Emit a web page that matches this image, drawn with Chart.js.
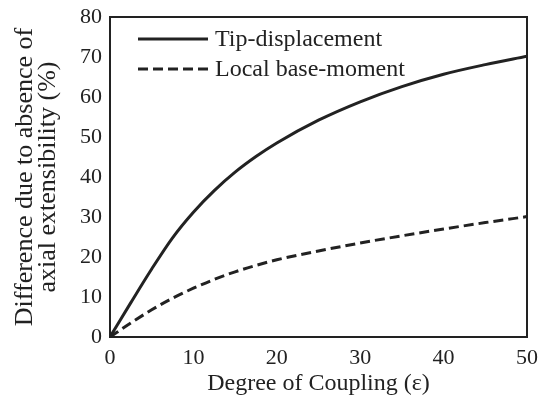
<!DOCTYPE html>
<html>
<head>
<meta charset="utf-8">
<script src="https://cdn.jsdelivr.net/npm/chart.js@4/dist/chart.umd.min.js"></script>
<style>
  html, body { margin: 0; padding: 0; background: #fff; }
  #wrap { width: 539px; height: 402px; }
</style>
</head>
<body>
<div id="wrap"><canvas id="coupling"></canvas></div>
<script>
// degree of coupling (epsilon) sample points
const couplingX = [0, 2.5, 5, 7.5, 10, 12.5, 15, 17.5, 20, 25, 30, 35, 40, 45, 50];
const tipDisplacement = [0, 8.6, 17.0, 24.8, 31.2, 36.6, 41.2, 45.1, 48.5, 54.2, 58.8, 62.6, 65.7, 68.1, 70.2];
const baseMoment = [0, 3.5, 6.8, 9.7, 12.2, 14.4, 16.3, 17.9, 19.3, 21.5, 23.5, 25.3, 27.0, 28.6, 30.1];
const xTicks = [0, 10, 20, 30, 40, 50];
const yTicks = [0, 10, 20, 30, 40, 50, 60, 70, 80];

const ink = '#222';
const serif = '"Liberation Serif", "Times New Roman", serif';

const pts = ys => couplingX.map((x, i) => ({ x: x, y: ys[i] }));

// frame round the plot and a hand drawn legend in the upper left
const framePlugin = {
  id: 'frame',
  afterDatasetsDraw(chart) {
    const { ctx, chartArea: a } = chart;
    ctx.save();
    ctx.strokeStyle = ink;
    ctx.lineWidth = 2;
    ctx.strokeRect(a.left, a.top, a.right - a.left, a.bottom - a.top);

    ctx.font = '24px ' + serif;
    ctx.textBaseline = 'middle';
    ctx.fillStyle = ink;
    chart.data.datasets.forEach((ds, i) => {
      const y = a.top + 22 + i * 30;
      ctx.beginPath();
      ctx.lineWidth = ds.borderWidth;
      ctx.setLineDash(ds.borderDash || []);
      ctx.moveTo(a.left + 28, y);
      ctx.lineTo(a.left + 98, y);
      ctx.stroke();
      ctx.setLineDash([]);
      ctx.fillText(ds.label, a.left + 105, y + 1);
    });
    ctx.restore();
  }
};

new Chart(document.getElementById('coupling'), {
  type: 'line',
  data: {
    datasets: [
      {
        label: 'Tip-displacement',
        data: pts(tipDisplacement),
        borderColor: ink,
        borderWidth: 3,
        pointRadius: 0,
        cubicInterpolationMode: 'monotone'
      },
      {
        label: 'Local base-moment',
        data: pts(baseMoment),
        borderColor: ink,
        borderWidth: 3,
        borderDash: [10, 5],
        pointRadius: 0,
        cubicInterpolationMode: 'monotone'
      }
    ]
  },
  options: {
    responsive: true,
    maintainAspectRatio: false,
    animation: false,
    layout: { padding: { top: 17, right: 12, left: 0, bottom: 0 } },
    plugins: {
      legend: { display: false },
      tooltip: { enabled: false }
    },
    scales: {
      x: {
        type: 'linear',
        min: 0,
        max: 50,
        grid: { display: false, drawTicks: false },
        border: { display: false },
        afterBuildTicks: s => { s.ticks = xTicks.map(v => ({ value: v })); },
        afterFit: s => { s.height = 65; s.paddingLeft = 0; s.paddingRight = 0; },
        ticks: { color: ink, font: { family: serif, size: 22 }, padding: 8, maxRotation: 0 },
        title: {
          display: true,
          text: 'Degree of Coupling (ε)',
          color: ink,
          font: { family: serif, size: 24 },
          padding: { top: 0, bottom: 4 }
        }
      },
      y: {
        min: 0,
        max: 80,
        grid: { display: false, drawTicks: false },
        border: { display: false },
        afterBuildTicks: s => { s.ticks = yTicks.map(v => ({ value: v })); },
        afterFit: s => { s.width = 110; s.paddingTop = 0; s.paddingBottom = 0; },
        ticks: { color: ink, font: { family: serif, size: 22 }, padding: 8 },
        title: {
          display: true,
          text: ['Difference due to absence of', 'axial extensibility (%)'],
          color: ink,
          font: { family: serif, size: 26, lineHeight: 0.9 },
          padding: { top: 13, bottom: 0 }
        }
      }
    }
  },
  plugins: [framePlugin]
});
</script>
</body>
</html>
